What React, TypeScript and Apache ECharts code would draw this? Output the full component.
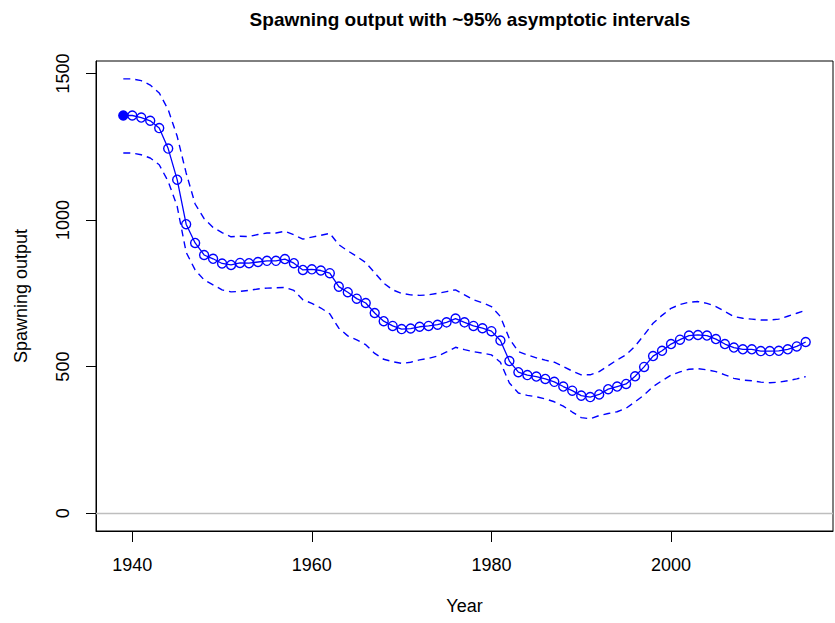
import React, { useEffect, useRef } from "react";
import * as echarts from "echarts";

const years: number[] = [];
for (let y = 1939; y <= 2015; y++) years.push(y);

const spawning: number[] = [
  1357, 1357, 1350, 1339, 1314, 1244, 1138, 986, 922, 881,
  868, 852, 847, 854, 853, 857, 861, 861, 867, 853,
  830, 832, 828, 819, 773, 754, 732, 717, 683, 655,
  639, 628, 630, 636, 639, 643, 651, 664, 651, 639,
  631, 621, 589, 519, 481, 471, 466, 458, 448, 432,
  418, 401, 396, 405, 423, 432, 441, 467, 499, 536,
  554, 577, 592, 606, 608, 606, 594, 577, 565, 559,
  559, 553, 553, 554, 559, 569, 584,
];

const upper: number[] = [
  1482, 1482, 1476, 1461, 1434, 1377, 1286, 1161, 1055, 1005,
  975, 957, 943, 945, 944, 951, 956, 956, 962, 950,
  935, 942, 948, 955, 916, 895, 876, 855, 820, 785,
  762, 750, 745, 743, 745, 750, 756, 762, 745, 728,
  718, 705, 671, 595, 551, 540, 530, 522, 515, 500,
  485, 472, 472, 483, 503, 523, 540, 570, 608, 648,
  675, 699, 712, 720, 722, 716, 705, 688, 671, 665,
  662, 659, 659, 662, 672, 682, 692,
];

const lower: number[] = [
  1229, 1229, 1223, 1212, 1189, 1132, 1047, 890, 830, 796,
  779, 762, 755, 757, 760, 765, 768, 769, 770, 760,
  728, 716, 700, 680, 631, 605, 591, 575, 545, 525,
  517, 511, 515, 523, 528, 536, 550, 566, 558, 551,
  546, 540, 515, 444, 410, 402, 397, 390, 380, 365,
  345, 326, 322, 333, 340, 346, 358, 380, 403, 432,
  452, 471, 482, 491, 493, 489, 483, 472, 460, 454,
  452, 447, 445, 447, 452, 458, 466,
];

const xTicks = [1940, 1960, 1980, 2000];
const yTicks = [0, 500, 1000, 1500];

const BLUE = "#0000ff";
const FONT = "Liberation Sans, Arial, sans-serif";

export default function App() {
  const ref = useRef<HTMLDivElement>(null);

  useEffect(() => {
    if (!ref.current) return;
    const chart = echarts.init(ref.current, null, { renderer: "svg" });

    // first year (unfished level) is drawn as a filled point, the rest as open circles
    const mainData = years.map((y, i) =>
      i === 0
        ? { value: [y, spawning[i]], symbol: "circle", itemStyle: { color: BLUE } }
        : { value: [y, spawning[i]] }
    );

    chart.setOption({
      animation: false,
      backgroundColor: "#ffffff",
      title: {
        text: "Spawning output with ~95% asymptotic intervals",
        left: 465,
        textAlign: "center",
        top: 5,
        textStyle: { fontFamily: FONT, fontSize: 19, fontWeight: "bold", color: "#000" },
      },
      grid: {
        left: 96,
        right: 2,
        top: 61,
        bottom: 92,
        show: true,
        borderColor: "#000",
        borderWidth: 1,
        backgroundColor: "transparent",
      },
      xAxis: {
        type: "value",
        min: 1935.96,
        max: 2018.04,
        name: "Year",
        nameLocation: "middle",
        nameGap: 66,
        nameTextStyle: { fontFamily: FONT, fontSize: 18, color: "#000" },
        axisLine: { show: true, onZero: false, lineStyle: { color: "#000", width: 1 } },
        axisTick: { show: true, length: 11, customValues: xTicks, lineStyle: { color: "#000" } },
        axisLabel: {
          customValues: xTicks,
          margin: 25,
          fontFamily: FONT,
          fontSize: 18,
          color: "#000",
          formatter: (v: number) => String(v),
        },
        splitLine: { show: false },
      },
      yAxis: {
        type: "value",
        min: -61,
        max: 1543,
        name: "Spawning output",
        nameLocation: "middle",
        nameGap: 66,
        nameTextStyle: { fontFamily: FONT, fontSize: 18, color: "#000" },
        axisLine: { show: true, onZero: false, lineStyle: { color: "#000", width: 1 } },
        axisTick: { show: true, length: 10, customValues: yTicks, lineStyle: { color: "#000" } },
        axisLabel: {
          customValues: yTicks,
          rotate: 90,
          margin: 24,
          fontFamily: FONT,
          fontSize: 18,
          color: "#000",
          formatter: (v: number) => String(v),
        },
        splitLine: { show: false },
      },
      series: [
        {
          name: "upper",
          type: "line",
          data: years.map((y, i) => [y, upper[i]]),
          showSymbol: false,
          symbol: "none",
          lineStyle: { color: BLUE, width: 1.4, type: [7, 5] },
          silent: true,
          z: 2,
        },
        {
          name: "lower",
          type: "line",
          data: years.map((y, i) => [y, lower[i]]),
          showSymbol: false,
          symbol: "none",
          lineStyle: { color: BLUE, width: 1.4, type: [7, 5] },
          silent: true,
          z: 2,
        },
        {
          name: "Spawning output",
          type: "line",
          data: mainData,
          symbol: "circle",
          symbolSize: 9,
          showAllSymbol: true,
          lineStyle: { color: BLUE, width: 1.3 },
          itemStyle: { color: "rgba(0,0,0,0)", borderColor: BLUE, borderWidth: 1.4 },
          silent: true,
          z: 3,
          markLine: {
            silent: true,
            symbol: "none",
            label: { show: false },
            lineStyle: { color: "#bebebe", type: "solid", width: 1.3 },
            data: [{ yAxis: 0 }],
          },
        },
      ],
    });

    return () => chart.dispose();
  }, []);

  return (
    <div
      ref={ref}
      style={{ position: "fixed", left: 0, top: 0, width: 835, height: 623, background: "#fff" }}
    />
  );
}
